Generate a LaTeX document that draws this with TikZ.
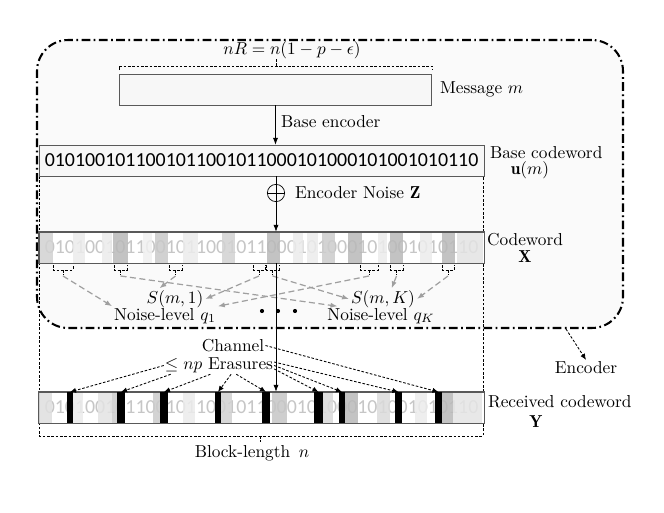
\documentclass[tikz,border=0pt]{standalone}
\usepackage{fontspec}
\newfontfamily\bitfont{Carlito}
\usetikzlibrary{arrows.meta}
\newcommand{\bitstr}{{\bitfont\fontsize{11.5}{12}\selectfont 0101001011001011001011000101000101001010110}}

\begin{document}
\begin{tikzpicture}[x=0.8in,y=-0.8in,
  encbox/.style={draw, line width=1.2pt, dash pattern=on 5pt off 2pt on 1pt off 2pt,
    rounded corners=18pt, fill=gray!4, inner sep=0pt, minimum width=338.8pt, minimum height=166.5pt},
  wordbox/.style={draw=gray!70!black, fill=gray!6, inner sep=0pt, minimum width=257.3pt, minimum height=17.9pt},
  brc/.style={line width=0.5pt, dash pattern=on 1.5pt off 1pt},
  lab/.style={inner sep=1pt},
  xorc/.style={draw, circle, inner sep=0pt, minimum size=10pt,
    path picture={\draw (path picture bounding box.north) -- (path picture bounding box.south)
      (path picture bounding box.west) -- (path picture bounding box.east);}},
  solidarr/.style={-{Latex[length=4pt,width=3pt]}},
  noisearr/.style={gray!75, line width=0.7pt, dash pattern=on 3.5pt off 2pt, -{Latex[length=4pt,width=3pt]}},
  erasearr/.style={line width=0.5pt, dash pattern=on 1.5pt off 1pt, -{Latex[length=3.5pt,width=3pt]}}]
\useasboundingbox (0,0) rectangle (6.64,5.13);
\node[encbox] (enc) at (3.30,1.84) {};

% block-length bracket
\draw[brc] (0.39,1.76) -- (0.39,4.36) -- (4.83,4.36) -- (4.83,1.76);
\draw[brc] (2.60,4.36) -- (2.60,4.42);
\node[lab] (blen) at (2.52,4.53) {Block-length\, $n$};

% message and base codeword
\node[lab] (rate) at (2.92,0.50) {$nR=n(1-p-\epsilon)$};
\draw[brc] (1.19,0.70) -- (1.19,0.66) -- (4.32,0.66) -- (4.32,0.70);
\draw[brc] (2.76,0.66) -- (2.76,0.59);
\node[wordbox, minimum width=180.4pt] (msg) at (2.755,0.895) {};
\node[lab, anchor=west] (msglab) at (4.38,0.89) {Message $m$};
\node[wordbox] (base) at (2.615,1.605) {\bitstr};
\draw[solidarr] (msg.south) -- (msg.south |- base.north);
\node[lab, anchor=west] (benc) at (2.79,1.22) {Base encoder};
\node[lab, anchor=west] (baselab) at (4.88,1.53) {Base codeword};
\node[lab] (basesym) at (5.30,1.70) {$\mathbf{u}(m)$};

% encoder noise
\node[xorc] (xor) at (2.76,1.93) {};
\node[lab, anchor=west] (zlab) at (2.93,1.93) {Encoder Noise $\mathbf{Z}$};

% codeword X
\node[wordbox, fill=white] (cw) at (2.615,2.475) {\color{gray!45}\bitstr};
\foreach \a/\b/\s in {0.40/0.53/35, 0.73/0.85/15, 1.02/1.12/15, 1.13/1.28/55, 1.43/1.52/12,
    1.55/1.68/42, 1.83/1.98/15, 2.22/2.35/35, 2.67/2.80/55, 2.93/3.03/15, 3.07/3.18/15,
    3.22/3.35/40, 3.48/3.62/55, 3.78/3.87/15, 3.90/4.03/55, 4.20/4.32/15, 4.42/4.55/55, 4.57/4.83/22}
  \fill[gray!\s, opacity=0.85] (\a,2.325) rectangle (\b,2.625);
\draw[gray!70!black] (cw.north west) rectangle (cw.south east);
\node[lab] (cwlab) at (5.25,2.40) {Codeword};
\node[lab] (cwsym) at (5.25,2.57) {$\mathbf{X}$};
\draw (base.south -| xor) -- (xor);
\draw[solidarr] (xor) -- (xor |- cw.north);

% noise sets
\foreach \a/\b [count=\i] in {0.53/0.73, 1.14/1.27, 1.69/1.82, 2.53/2.65, 2.66/2.79, 3.60/3.78, 3.90/4.03, 4.42/4.54} {
  \draw[brc] (\a,2.65) -- (\a,2.70) -- (\b,2.70) -- (\b,2.65);
  \draw[brc] ({(\a+\b)/2},2.70) -- ({(\a+\b)/2},2.75);
  \coordinate (b\i) at ({(\a+\b)/2},2.76);
}
\node[lab] (sm1) at (1.75,2.99) {$S(m,1)$};
\node[lab] (smk) at (3.83,2.99) {$S(m,K)$};
\node[lab] (nq1) at (1.65,3.16) {Noise-level $q_1$};
\node[lab] (nqk) at (3.81,3.16) {Noise-level $q_K$};
\draw[noisearr] (b1) -- (nq1.north west);
\draw[noisearr] (b2) -- ([xshift=7pt]nqk.north west);
\draw[noisearr] (b3) -- ([xshift=-9pt]sm1.north);
\draw[noisearr] (b4) -- (sm1.east);
\draw[noisearr] (b5) -- (smk.west);
\draw[noisearr] (b6) -- (nq1.north east);
\draw[noisearr] (b7) -- ([xshift=5pt]smk.north);
\draw[noisearr] (b8) -- (smk.east);
\foreach \x in {2.62,2.78,2.95}
  \fill (\x,3.11) circle (1.2pt);

% encoder label
\coordinate (encfoot) at (5.66,3.29);
\node[lab] (enclab) at (5.86,3.68) {Encoder};
\draw[erasearr] (encfoot) -- (enclab.north);

% received codeword Y
\node[wordbox, fill=white] (rx) at (2.615,4.075) {\color{gray!45}\bitstr};
\foreach \a/\b/\s in {0.39/0.52/25, 0.73/0.83/15, 0.98/1.12/22, 1.12/1.17/40, 1.53/1.60/40,
    1.83/1.95/15, 2.20/2.32/35, 2.72/2.87/45, 3.23/3.33/30, 3.45/3.58/55, 3.77/3.90/28,
    4.15/4.27/15, 4.42/4.53/55, 4.53/4.82/20}
  \fill[gray!\s, opacity=0.85] (\a,3.925) rectangle (\b,4.225);
\foreach \a/\b [count=\i] in {0.67/0.73, 1.17/1.25, 1.60/1.68, 2.15/2.21, 2.62/2.70,
    3.14/3.23, 3.39/3.45, 3.95/4.02, 4.35/4.42} {
  \fill[black] (\a,3.92) rectangle (\b,4.23);
  \coordinate (e\i) at ({(\a+\b)/2},3.92);
}
\draw[gray!70!black] (rx.north west) rectangle (rx.south east);
\node[lab, anchor=west] (rxlab) at (4.86,4.02) {Received codeword};
\node[lab] (rxsym) at (5.36,4.22) {$\mathbf{Y}$};

% channel
\draw[solidarr] (cw.south -| xor) -- (xor |- rx.north);
\node[lab, inner sep=0.5pt] (chan) at (2.33,3.455) {Channel};
\node[lab, inner sep=0.5pt] (era) at (2.19,3.655) {$\leq np$ Erasures};
\draw[erasearr] (era.west) -- (e1);
\draw[erasearr] ([xshift=4pt]era.south west) -- (e2);
\draw[erasearr] ([xshift=-5pt]era.south) -- (e3);
\draw[erasearr] ([xshift=7pt]era.south) -- (e4);
\draw[erasearr] ([xshift=10pt]era.south) -- (e5);
\draw[erasearr] ([yshift=-2pt]era.east) -- (e6);
\draw[erasearr] (era.east) -- (e7);
\draw[erasearr] ([yshift=2pt]era.east) -- (e8);
\draw[erasearr] (chan.east) -- (e9);
\end{tikzpicture}
\end{document}
